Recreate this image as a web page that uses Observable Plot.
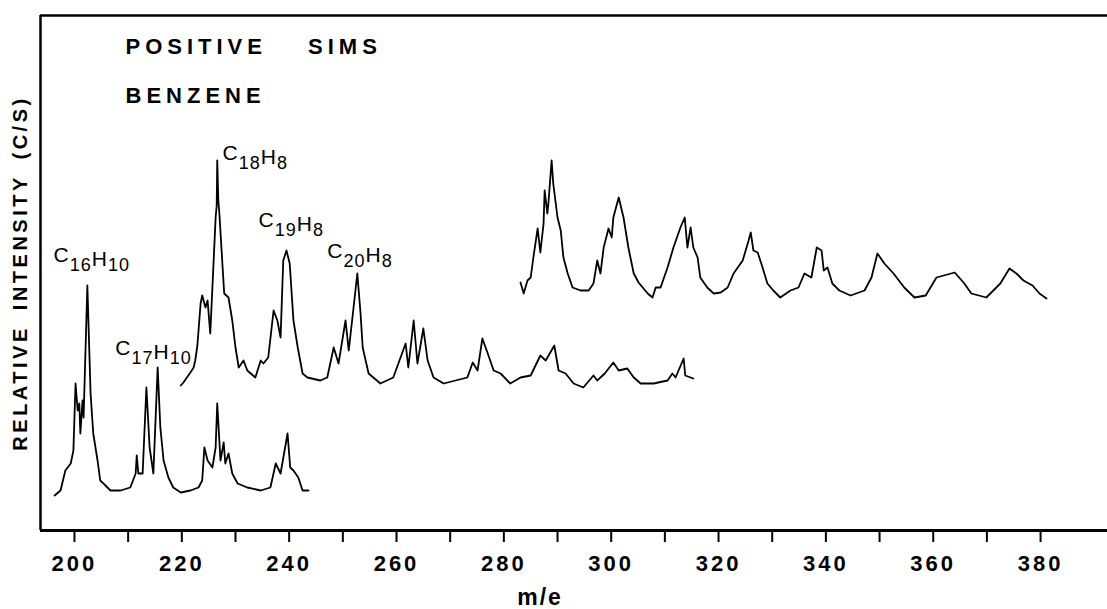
<!DOCTYPE html>
<html>
<head>
<meta charset="utf-8">
<script src="https://cdn.jsdelivr.net/npm/d3@7"></script>
<script src="https://cdn.jsdelivr.net/npm/@observablehq/plot@0.6"></script>
<style>
  body { margin: 0; background: #fff; }
  #chart svg { display: block; }
</style>
</head>
<body>
<div id="chart"></div>
<script>
// ---- Data (m/e, relative intensity in arbitrary units) ----
// Lower trace
const mzA = [196.3,197.4,198.3,199.3,199.8,200.2,200.6,200.9,201.1,201.5,201.7,202.4,203.0,203.5,204.3,204.8,205.4,206.7,208.6,210.4,211.4,211.6,211.9,212.7,213.4,214.0,214.7,215.5,216.0,216.6,217.5,218.4,219.8,221.6,223.1,223.8,224.2,224.8,225.7,226.3,226.6,227.2,227.8,228.1,228.7,229.4,230.4,232.2,234.7,236.5,237.5,238.4,239.7,240.2,240.8,241.7,242.5,243.6];
const intA = [35,40,60,67,80,147,120,127,97,130,113,245,137,97,70,50,47,40,40,43,57,75,57,57,143,83,57,163,103,70,53,43,38,40,43,50,83,70,63,83,127,70,88,67,77,57,47,43,40,43,67,57,97,63,60,53,40,40];
// Middle trace
const mzB = [219.8,220.3,221.6,222.2,222.5,222.9,223.5,223.8,224.4,224.8,225.3,225.7,226.3,226.5,226.6,226.8,227.0,227.6,227.9,228.7,229.4,230.0,230.6,231.5,232.2,233.7,234.7,235.2,236.1,237.1,237.8,238.4,238.9,239.5,240.1,240.8,241.6,242.5,243.4,245.8,247.1,248.3,249.2,250.5,251.1,252.0,252.7,253.3,253.7,254.8,257.0,259.4,261.7,262.2,263.2,263.9,265.0,265.8,266.9,268.8,273.2,274.2,275.1,276.0,277.0,278.1,279.4,281.2,283.1,285.0,286.8,287.8,289.4,290.2,291.5,293.0,294.8,296.7,297.4,298.8,300.4,301.4,303.0,304.2,305.5,307.9,310.5,311.4,312.0,313.5,313.8,315.3];
const intB = [145,148,158,163,170,185,227,235,223,230,197,243,313,325,370,330,317,263,237,233,210,183,163,170,160,153,170,167,173,220,210,193,270,280,267,210,183,157,153,150,153,183,167,210,180,223,257,217,183,157,147,153,187,163,210,167,202,170,153,147,153,168,160,192,177,160,157,147,153,155,175,170,185,160,157,147,143,155,150,157,168,160,162,153,147,147,150,157,153,172,155,152];
// Upper-right trace
const mzC = [283.1,283.7,284.4,285.0,285.5,286.3,286.8,287.4,287.6,288.1,288.3,288.9,289.2,290.0,290.6,291.1,291.9,292.8,294.3,295.8,296.7,297.4,298.0,298.6,299.5,300.1,300.4,301.4,302.3,303.2,304.2,305.1,306.8,307.7,308.3,309.2,310.5,311.6,312.9,313.7,314.2,314.8,315.3,316.1,316.6,317.9,319.1,320.4,321.7,322.8,324.5,325.6,326.0,326.5,327.3,328.2,329.1,330.2,331.5,333.4,334.9,336.0,337.3,338.3,339.2,339.6,340.3,341.2,342.5,344.6,347.2,348.5,349.6,350.9,352.6,354.6,356.5,358.6,360.6,364.0,365.8,367.1,369.9,371.2,372.5,374.2,375.5,376.8,378.5,379.8,381.1];
const intC = [248,237,250,253,273,302,278,307,340,317,327,370,347,313,300,273,257,243,240,240,247,270,257,283,302,293,313,333,313,283,257,248,237,233,243,243,263,283,303,313,283,303,283,273,253,243,237,238,243,257,270,290,298,280,278,263,247,240,233,240,243,257,253,283,280,260,263,247,240,235,240,253,277,267,257,243,233,235,253,258,247,237,233,240,247,262,257,250,245,237,232];

// Peak annotations
const formulaLabels = ["C16H10", "C17H10", "C18H8", "C19H8", "C20H8"];
const formulaMz     = [196.1, 207.6, 227.6, 234.3, 247.1];
const formulaInt    = [275, 182, 377, 310, 279];

// Axis
const xDomain = [193.67, 392.47];
const yDomain = [0, 515];
const xTicks = [200,210,220,230,240,250,260,270,280,290,300,310,320,330,340,350,360,370,380];
const xTickLabels = ["200","","220","","240","","260","","280","","300","","320","","340","","360","","380"];

const titleLine1 = "POSITIVE SIMS";
const titleLine2 = "BENZENE";
const xLabel = "m/e";
const yLabel = "RELATIVE INTENSITY (C/S)";

// ---- Build tables ----
const toRows = (mz, it) => mz.map((m, i) => ({mz: m, intensity: it[i]}));
const seriesA = toRows(mzA, intA);
const seriesB = toRows(mzB, intB);
const seriesC = toRows(mzC, intC);
const formulas = formulaLabels.map((l, i) => ({label: l, mz: formulaMz[i], intensity: formulaInt[i]}));
const tickLabelMap = new Map(xTicks.map((t, i) => [t, xTickLabels[i]]));

const FONT = "'Liberation Sans', Arial, sans-serif";

const plot = Plot.plot({
  width: 1107,
  height: 609,
  marginLeft: 40,
  marginRight: 0,
  marginTop: 15,
  marginBottom: 79,
  x: {domain: xDomain, label: null},
  y: {domain: yDomain, axis: null},
  style: {fontFamily: FONT, background: "#fff", color: "#000", overflow: "visible"},
  marks: [
    Plot.ruleX([xDomain[0]], {stroke: "#000", strokeWidth: 2.5}),
    Plot.ruleY([yDomain[1]], {stroke: "#000", strokeWidth: 2.5}),
    Plot.ruleY([yDomain[0]], {stroke: "#000", strokeWidth: 3}),
    Plot.axisX({
      ticks: xTicks, tickSize: 12, tickPadding: 13,
      tickFormat: d => tickLabelMap.get(d) ?? "",
      strokeWidth: 2, fontSize: 22, fontWeight: "bold", label: null
    }),
    Plot.line(seriesA, {x: "mz", y: "intensity", stroke: "#000", strokeWidth: 1.8}),
    Plot.line(seriesB, {x: "mz", y: "intensity", stroke: "#000", strokeWidth: 1.8}),
    Plot.line(seriesC, {x: "mz", y: "intensity", stroke: "#000", strokeWidth: 1.8}),
    Plot.text(formulas, {x: "mz", y: "intensity", text: "label", textAnchor: "start",
      lineAnchor: "middle", fontSize: 21, fill: "#000"}),
    Plot.text([titleLine1], {frameAnchor: "top-left", dx: 85, dy: 31, textAnchor: "start",
      lineAnchor: "middle", fontSize: 22, fontWeight: "bold", fill: "#000"}),
    Plot.text([titleLine2], {frameAnchor: "top-left", dx: 85, dy: 80, textAnchor: "start",
      lineAnchor: "middle", fontSize: 22, fontWeight: "bold", fill: "#000"}),
    Plot.text([yLabel], {frameAnchor: "left", dx: -20, rotate: -90, textAnchor: "middle",
      lineAnchor: "middle", fontSize: 20, fontWeight: "bold", fill: "#000"}),
    Plot.text([xLabel], {frameAnchor: "bottom", dx: -34, dy: 67, textAnchor: "middle",
      lineAnchor: "middle", fontSize: 23, fontWeight: "bold", fill: "#000"})
  ]
});

document.getElementById("chart").appendChild(plot);

// ---- Typographic touch-ups (matched by text content) ----
const tickSet = new Set(xTickLabels.filter(d => d));
plot.querySelectorAll("text").forEach(node => {
  const s = node.textContent;
  const sel = d3.select(node);
  if (tickSet.has(s)) {
    sel.style("letter-spacing", "3px");
  } else if (s === titleLine1) {
    sel.style("letter-spacing", "5px").style("word-spacing", "30px");
  } else if (s === titleLine2) {
    sel.style("letter-spacing", "5px");
  } else if (s === yLabel) {
    sel.style("letter-spacing", "3.5px").style("word-spacing", "6px");
  } else if (s === xLabel) {
    sel.style("letter-spacing", "2px");
  } else if (formulaLabels.includes(s)) {
    sel.text(null).style("letter-spacing", "1px");
    const parts = s.match(/[A-Z][a-z]?|\d+/g) || [s];
    let offset = 0;
    parts.forEach((p, i) => {
      const isNum = /^\d+$/.test(p);
      const target = isNum ? 9 : (i === 0 ? 0 : 4);
      const ts = sel.append("tspan").text(p).attr("dy", (target - offset) + "px");
      if (isNum) ts.attr("font-size", "18px");
      offset = target;
    });
  }
});
</script>
</body>
</html>
